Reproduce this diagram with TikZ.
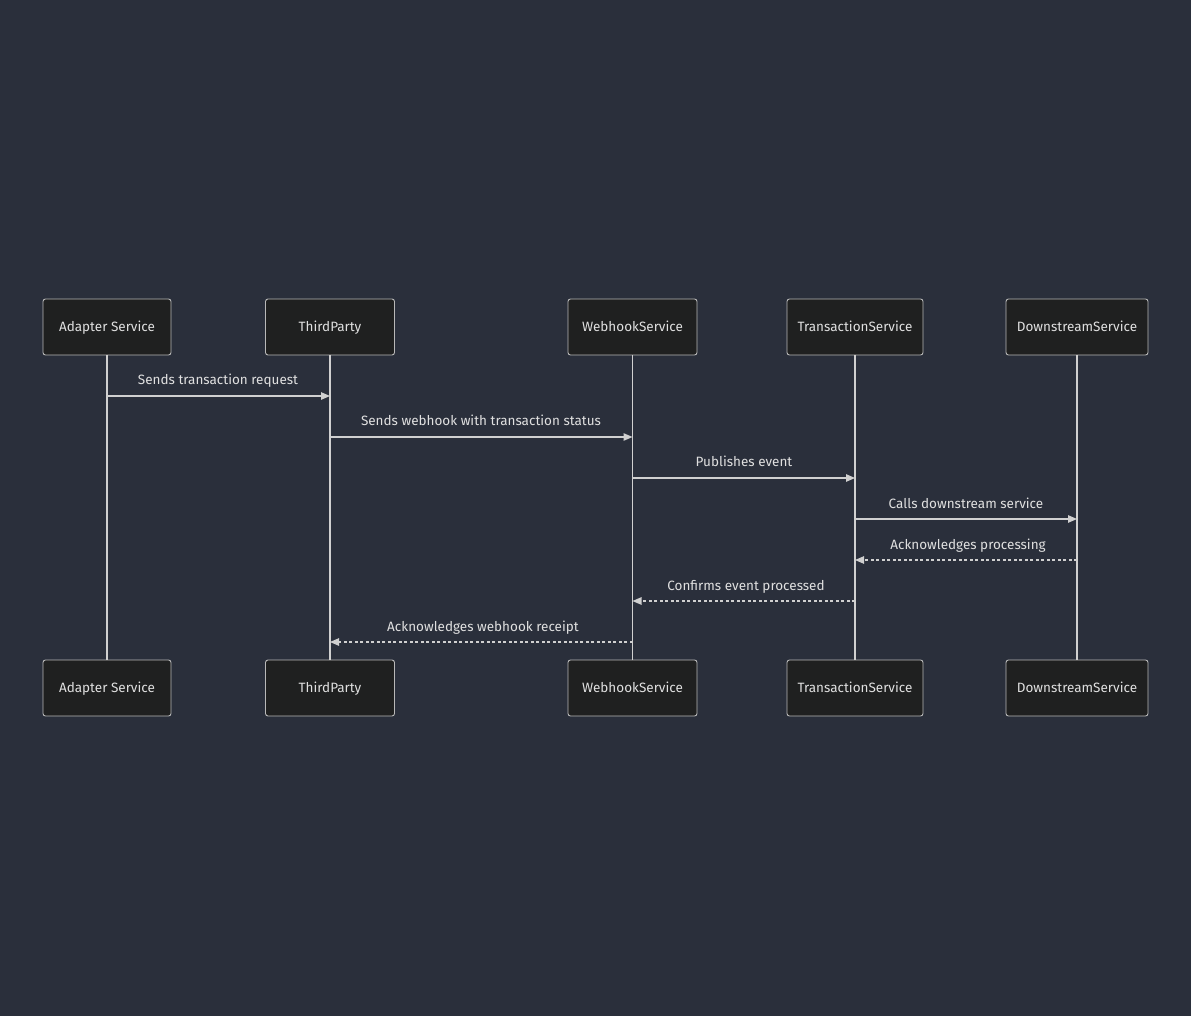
\documentclass[tikz,border=0pt]{standalone}
\usepackage{fontspec}
\setmainfont{Fira Sans}
\usetikzlibrary{arrows.meta}
\definecolor{bgc}{HTML}{2A2F3B}
\definecolor{boxfill}{HTML}{1F2020}
\definecolor{boxline}{HTML}{B8B8B8}
\definecolor{linec}{HTML}{D0D0D0}
\definecolor{txt}{HTML}{E0E0E0}
\tikzset{
  actor/.style={draw=boxline, fill=boxfill, rounded corners=2.5pt, line width=0.9pt,
    minimum height=56pt, text=txt, font=\fontsize{13.5}{15}\selectfont, inner sep=0pt,
    text height=9.3pt, text depth=0pt},
  life/.style={draw=linec, line width=1.2pt},
  msg/.style={draw=linec, line width=1.1pt, -{Triangle[length=9pt,width=7.5pt]}},
  reply/.style={msg, dash pattern=on 3pt off 2.5pt},
  lbl/.style={text=txt, font=\fontsize{13.5}{15}\selectfont, inner sep=0pt,
    text height=9.3pt, text depth=0pt}
}
\begin{document}
\begin{tikzpicture}[x=1pt,y=-1pt]
\fill[bgc] (0,0) rectangle (1191,1016);
\useasboundingbox (0,0) rectangle (1191,1016);
% top actors
\node[actor, minimum width=128pt] (a1) at (107,327) {Adapter Service};
\node[actor, minimum width=129pt] (b1) at (330,327) {ThirdParty};
\node[actor, minimum width=129pt] (c1) at (632.5,327) {WebhookService};
\node[actor, minimum width=136pt] (d1) at (855,327) {TransactionService};
\node[actor, minimum width=142pt] (e1) at (1077,327) {DownstreamService};
% bottom actors
\node[actor, minimum width=128pt] (a2) at (107,688) {Adapter Service};
\node[actor, minimum width=129pt] (b2) at (330,688) {ThirdParty};
\node[actor, minimum width=129pt] (c2) at (632.5,688) {WebhookService};
\node[actor, minimum width=136pt] (d2) at (855,688) {TransactionService};
\node[actor, minimum width=142pt] (e2) at (1077,688) {DownstreamService};
% lifelines
\draw[life] (a1) -- (a2);
\draw[life] (b1) -- (b2);
\draw[life] (c1) -- (c2);
\draw[life] (d1) -- (d2);
\draw[life] (e1) -- (e2);
% message anchor coordinates
\coordinate (m1s) at (107,396); \coordinate (m1e) at (330,396);
\coordinate (m2s) at (330,437); \coordinate (m2e) at (632.5,437);
\coordinate (m3s) at (632.5,478); \coordinate (m3e) at (855,478);
\coordinate (m4s) at (855,519); \coordinate (m4e) at (1077,519);
\coordinate (m5s) at (1077,560); \coordinate (m5e) at (855,560);
\coordinate (m6s) at (855,601); \coordinate (m6e) at (632.5,601);
\coordinate (m7s) at (632.5,642); \coordinate (m7e) at (330,642);
\draw[msg] (m1s) -- (m1e);
\draw[msg] (m2s) -- (m2e);
\draw[msg] (m3s) -- (m3e);
\draw[msg] (m4s) -- (m4e);
\draw[reply] (m5s) -- (m5e);
\draw[reply] (m6s) -- (m6e);
\draw[reply] (m7s) -- (m7e);
% labels
\node[lbl] (l1) at (218,380) {Sends transaction request};
\node[lbl] (l2) at (481,421) {Sends webhook with transaction status};
\node[lbl] (l3) at (744,462) {Publishes event};
\node[lbl] (l4) at (966,504) {Calls downstream service};
\node[lbl] (l5) at (968,545) {Acknowledges processing};
\node[lbl] (l6) at (746,586) {Confirms event processed};
\node[lbl] (l7) at (483,627) {Acknowledges webhook receipt};
\end{tikzpicture}
\end{document}
